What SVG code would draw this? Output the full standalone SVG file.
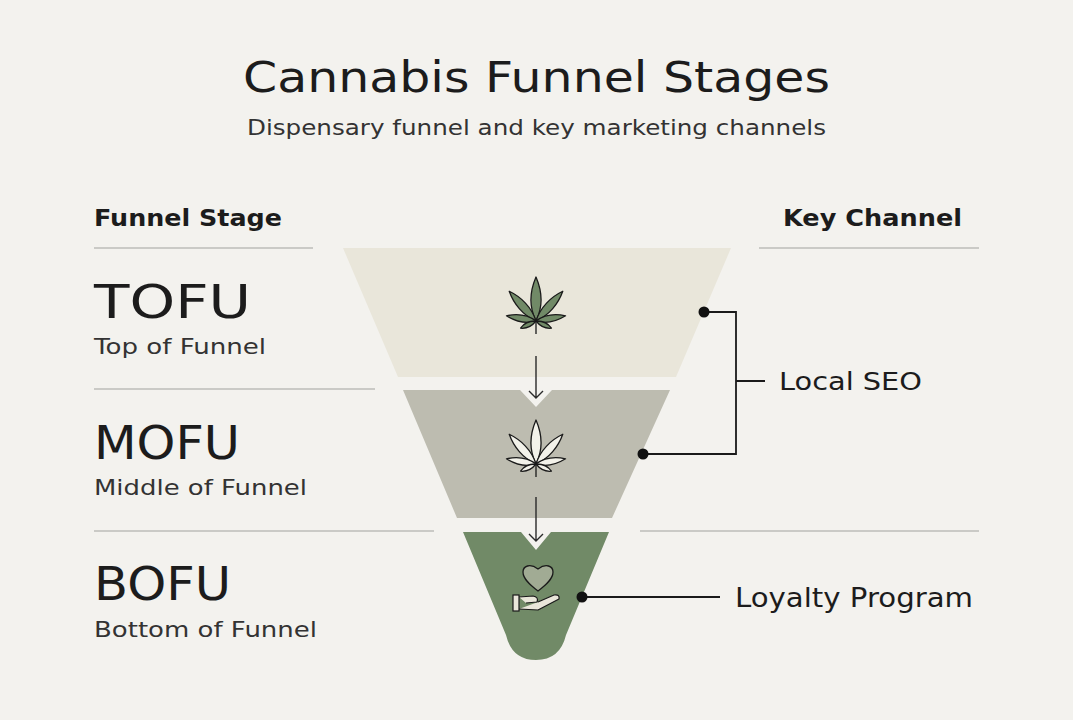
<svg xmlns="http://www.w3.org/2000/svg" width="1073" height="720" viewBox="0 0 1073 720">
<defs>
<style>
text{font-family:"DejaVu Sans","Open Sans",sans-serif;fill:#1c1c1c}
.h{font-size:23px;font-weight:bold}
.st{font-size:46px}
.sub{font-size:22px;fill:#333}
.rule{stroke:#bdbdb8;stroke-width:1.3}
.ln{stroke:#1a1a1a;stroke-width:1.8;fill:none}
.ar{stroke:#2a2a2a;stroke-width:1.4;fill:none}
.lf{stroke:#1a1a1a;stroke-width:1.3;stroke-linejoin:round}
</style>
<g id="leaf">
<path d="M0,0 C-7,-14 -6,-30 0,-44 C6,-30 7,-14 0,0Z"/>
<path d="M0,0 C-6,-13 -5,-28 0,-40 C5,-28 6,-13 0,0Z" transform="rotate(-42)"/>
<path d="M0,0 C-6,-13 -5,-28 0,-40 C5,-28 6,-13 0,0Z" transform="rotate(42)"/>
<path d="M0,0 C-5,-10 -4,-20 0,-30 C4,-20 5,-10 0,0Z" transform="rotate(-80)"/>
<path d="M0,0 C-5,-10 -4,-20 0,-30 C4,-20 5,-10 0,0Z" transform="rotate(80)"/>
<path d="M0,0 C-3,-6 -3,-12 0,-17 C3,-12 3,-6 0,0Z" transform="rotate(-115)"/>
<path d="M0,0 C-3,-6 -3,-12 0,-17 C3,-12 3,-6 0,0Z" transform="rotate(115)"/>
<path d="M0,0 L0,13" fill="none"/>
</g>
</defs>
<rect width="1073" height="720" fill="#f3f2ee"/>
<text x="243" y="92" textLength="587" lengthAdjust="spacingAndGlyphs" style="font-size:43px">Cannabis Funnel Stages</text>
<text x="247" y="135" textLength="579" lengthAdjust="spacingAndGlyphs" style="font-size:22px;fill:#333">Dispensary funnel and key marketing channels</text>

<g id="headers">
<text class="h" x="94" y="226" textLength="188" lengthAdjust="spacingAndGlyphs">Funnel Stage</text>
<text class="h" x="783" y="226" textLength="179" lengthAdjust="spacingAndGlyphs">Key Channel</text>
<line class="rule" x1="94" y1="248" x2="313" y2="248"/>
<line class="rule" x1="759" y1="248" x2="979" y2="248"/>
<line class="rule" x1="94" y1="389" x2="375" y2="389"/>
<line class="rule" x1="94" y1="531" x2="434" y2="531"/>
<line class="rule" x1="640" y1="531" x2="979" y2="531"/>
</g>

<g id="tofu">
<path d="M343,248 L731,248 L676,377 L398,377Z" fill="#e9e6da"/>
<use href="#leaf" transform="translate(536,321)" fill="#718a67" class="lf"/>
<text class="st" x="94" y="318" textLength="157" lengthAdjust="spacingAndGlyphs">TOFU</text>
<text class="sub" x="94" y="354" textLength="172" lengthAdjust="spacingAndGlyphs">Top of Funnel</text>
</g>
<g id="mofu">
<path d="M403,390 L520,390 L536,407 L552,390 L670,390 L612,518 L457,518Z" fill="#bdbcb0"/>
<use href="#leaf" transform="translate(536,464)" fill="#f3f2ea" class="lf"/>
<text class="st" x="94" y="459" textLength="146" lengthAdjust="spacingAndGlyphs">MOFU</text>
<text class="sub" x="94" y="495" textLength="213" lengthAdjust="spacingAndGlyphs">Middle of Funnel</text>
</g>
<g id="bofu">
<path d="M463,532 L521,532 L536,550 L551,532 L609,532 L566,635 Q560,660 536,660 Q512,660 506,635Z" fill="#718a67"/>
<path d="M538,591 C530,585 523,579 523,572 C523,566 530,563 538,569 C546,563 553,566 553,572 C553,579 546,585 538,591Z" fill="#a1ab94" stroke="#1a1a1a" stroke-width="1.3"/>
<path d="M519,597 L533,596 Q539,597 537,602 L526,603 M519,609 L538,610 L559,599 Q560,594 554,595 L538,602" fill="#e9e6da" stroke="#1a1a1a" stroke-width="1.2" stroke-linejoin="round"/>
<rect x="513" y="595" width="6" height="16" fill="#e9e6da" stroke="#1a1a1a" stroke-width="1.2"/>
<text class="st" x="94" y="600" textLength="137" lengthAdjust="spacingAndGlyphs">BOFU</text>
<text class="sub" x="94" y="637" textLength="223" lengthAdjust="spacingAndGlyphs">Bottom of Funnel</text>
</g>

<g id="channel-seo">
<text x="779" y="390" textLength="143" lengthAdjust="spacingAndGlyphs" style="font-size:25px">Local SEO</text>
</g>
<g id="channel-loyalty">
<text x="735" y="607" textLength="238" lengthAdjust="spacingAndGlyphs" style="font-size:27px">Loyalty Program</text>
</g>

<g id="connectors">
<path class="ar" d="M536,356 L536,398 M529,391 L536,398 L543,391"/>
<path class="ar" d="M536,497 L536,541 M529,534 L536,541 L543,534"/>
<path class="ln" d="M704,312 L736,312 L736,454 L643,454 M736,381 L765,381"/>
<path class="ln" d="M582,597 L720,597"/>
<circle cx="704" cy="312" r="5.5" fill="#111"/>
<circle cx="643" cy="454" r="5.5" fill="#111"/>
<circle cx="582" cy="597" r="5.5" fill="#111"/>
</g>
</svg>
